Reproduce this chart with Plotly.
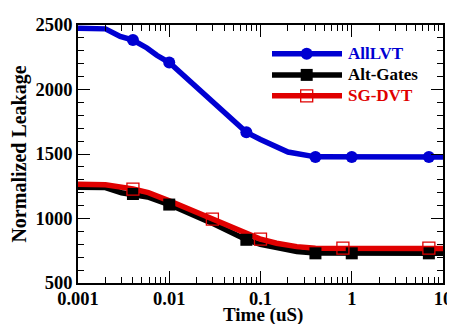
import plotly.graph_objects as go

# ---- data ----
t_lvt = [0.001, 0.002, 0.0029, 0.004, 0.0057, 0.0073, 0.01, 0.07, 0.1, 0.14, 0.2, 0.4, 1, 7, 10]
v_lvt = [2475, 2470, 2411, 2383, 2322, 2265, 2209, 1668, 1612, 1560, 1515, 1478, 1476, 1476, 1476]
t_lvt_m = [0.004, 0.01, 0.07, 0.4, 1, 7]
v_lvt_m = [2383, 2209, 1668, 1476, 1476, 1476]

t_alt = [0.001, 0.002, 0.003, 0.004, 0.0058, 0.01, 0.029, 0.07, 0.1, 0.156, 0.25, 0.4, 1, 7, 10]
v_alt = [1242, 1240, 1200, 1190, 1167, 1108, 966, 835, 800, 772, 745, 732, 730, 730, 730]
t_alt_m = [0.004, 0.01, 0.07, 0.4, 1, 7]
v_alt_m = [1190, 1108, 835, 730, 730, 730]

t_sg = [0.001, 0.002, 0.004, 0.0059, 0.0097, 0.0297, 0.098, 0.15, 0.25, 0.4, 0.8, 7, 10]
v_sg = [1266, 1262, 1230, 1200, 1141, 995, 842, 808, 782, 770, 768, 768, 768]
t_sg_m = [0.004, 0.0297, 0.1, 0.8, 7]
v_sg_m = [1228, 995, 840, 770, 770]

series_names = ["AllLVT", "Alt-Gates", "SG-DVT"]
x_tick_vals = [0.001, 0.01, 0.1, 1, 10]
x_tick_text = ["0.001", "0.01", "0.1", "1", "10"]
x_minor_vals = [m * 10 ** e for e in range(-3, 1) for m in range(2, 10)]
x_title = "Time (uS)"
y_title = "Normalized Leakage"

BLUE = "#0000D2"
BLACK = "#000000"
RED = "#E00000"
FONT = "Liberation Serif"

# the page body has an 8px default margin, so the figure is drawn 8px smaller
# and all pixel positions are taken relative to that offset
OFF = 8
W, H = 455 - OFF, 324 - OFF
L, R, T, B = 78 - OFF, 443 - OFF, 24.5 - OFF, 283 - OFF

fig = go.Figure()
fig.add_trace(go.Scatter(x=t_lvt, y=v_lvt, mode="lines", line=dict(color=BLUE, width=5.5), showlegend=False))
fig.add_trace(go.Scatter(x=t_lvt_m, y=v_lvt_m, mode="markers",
                         marker=dict(symbol="circle", size=12, color=BLUE), showlegend=False))
fig.add_trace(go.Scatter(x=t_alt, y=v_alt, mode="lines", line=dict(color=BLACK, width=5.5), showlegend=False))
fig.add_trace(go.Scatter(x=t_sg, y=v_sg, mode="lines", line=dict(color=RED, width=5.5), showlegend=False))
fig.add_trace(go.Scatter(x=t_alt_m, y=v_alt_m, mode="markers",
                         marker=dict(symbol="square", size=12, color=BLACK), showlegend=False))
fig.add_trace(go.Scatter(x=t_sg_m, y=v_sg_m, mode="markers",
                         marker=dict(symbol="square-open", size=12, color=RED, line=dict(width=1.3)),
                         showlegend=False))

# ---- manual legend (layout shapes / annotations in paper coords) ----
def px(xp):
    return (xp - OFF - L) / (R - L)
def py(yp):
    return (B - (yp - OFF)) / (B - T)

rows = [(53.3, BLUE, "circle"), (74.5, BLACK, "square"), (95.5, RED, "square-open")]
shapes = []
annotations = []
for (yy, col, sym), name in zip(rows, series_names):
    shapes.append(dict(type="line", xref="paper", yref="paper", x0=px(272), x1=px(342), y0=py(yy), y1=py(yy),
                       line=dict(color=col, width=5.5)))
    cx, r = 306.7, 6
    if sym == "circle":
        shapes.append(dict(type="circle", xref="paper", yref="paper", x0=px(cx - r), x1=px(cx + r),
                           y0=py(yy + r), y1=py(yy - r), fillcolor=col, line=dict(color=col, width=0)))
    elif sym == "square":
        shapes.append(dict(type="rect", xref="paper", yref="paper", x0=px(cx - r), x1=px(cx + r),
                           y0=py(yy + r), y1=py(yy - r), fillcolor=col, line=dict(color=col, width=0)))
    else:
        shapes.append(dict(type="rect", xref="paper", yref="paper", x0=px(cx - r), x1=px(cx + r),
                           y0=py(yy + r), y1=py(yy - r), fillcolor="rgba(0,0,0,0)", line=dict(color=col, width=1.3)))
    annotations.append(dict(xref="paper", yref="paper", x=px(346), y=py(yy), xanchor="left", yanchor="middle",
                            text=name, showarrow=False,
                            font=dict(family=FONT, size=17, color=col, weight="bold")))

# x-axis title sits near the bottom page edge in the reference, so place it as an annotation
annotations.append(dict(xref="paper", yref="paper", x=px(263), y=py(315.5), xanchor="center", yanchor="middle",
                        text=x_title, showarrow=False,
                        font=dict(family=FONT, size=19, color="black", weight="bold")))

axis_common = dict(showline=True, linecolor="black", linewidth=1.5, mirror="ticks",
                   ticks="inside", tickcolor="black", tickwidth=1.2, ticklen=12,
                   showgrid=False, zeroline=False, automargin=False,
                   tickfont=dict(family=FONT, size=18.5, color="black", weight="bold"))

fig.update_layout(
    width=W, height=H,
    margin=dict(l=L, r=W - R, t=T, b=H - B, pad=0),
    paper_bgcolor="white", plot_bgcolor="white",
    showlegend=False,
    shapes=shapes, annotations=annotations,
    xaxis=dict(type="log", range=[-3, 1], tickmode="array", tickvals=x_tick_vals, ticktext=x_tick_text,
               minor=dict(tickmode="array", tickvals=x_minor_vals, ticks="inside", ticklen=6,
                          tickcolor="black", tickwidth=1.2),
               ticklabelstandoff=-2,
               **axis_common),
    yaxis=dict(range=[500, 2500], tickmode="linear", tick0=500, dtick=500,
               minor=dict(dtick=100, ticks="inside", ticklen=6, tickcolor="black", tickwidth=1.2),
               title=dict(text=y_title, font=dict(family=FONT, size=20, color="black", weight="bold"),
                          standoff=4),
               **axis_common),
)

fig.write_html("out.html")
